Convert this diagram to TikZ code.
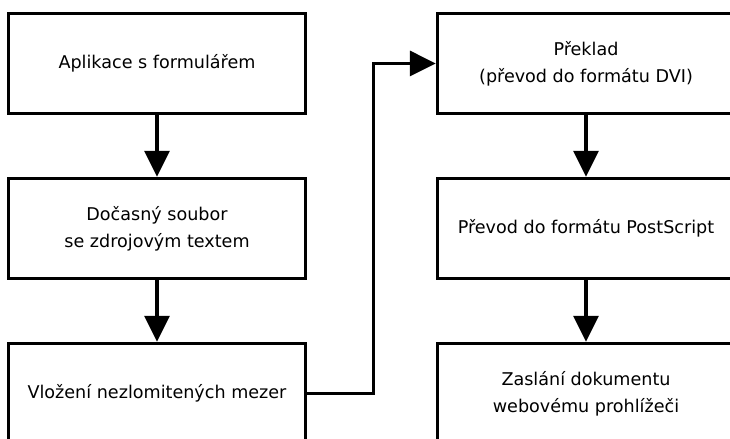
\documentclass[tikz,border=0pt]{standalone}
\usepackage{fontspec}
\setmainfont{DejaVu Sans}
\usetikzlibrary{arrows.meta}
\newcommand{\stagenum}{3}

\begin{document}
\begin{tikzpicture}[
    stage/.style={rectangle, draw=black, line width=1.9pt, fill=white,
        minimum width=5.94cm, minimum height=2cm, align=center,
        font=\fontsize{10}{15.4}\selectfont},
    flow/.style={-{Triangle[length=0.52cm, width=0.5cm]}, line width=1.9pt}
]

% Frame
\useasboundingbox (0,0) rectangle (14.6,8.78);
\clip (0,0) rectangle (14.6,8.78);

% Left column
\foreach \i/\txt in {1/{Aplikace s formulářem},
                     2/{Dočasný soubor\\se zdrojovým textem},
                     3/{Vložení nezlomitených mezer}}
{
    \node[stage] (Left-\i) at (3.14,{10.81-3.3*\i}) {\txt};
}

% Right column
\foreach \i/\txt in {1/{Překlad\\(převod do formátu DVI)},
                     2/{Převod do formátu PostScript},
                     3/{Zaslání dokumentu\\webovému prohlížeči}}
{
    \node[stage] (Right-\i) at (11.72,{10.81-3.3*\i}) {\txt};
}

% Connect stages in columns
\foreach \i [evaluate=\i as \j using int(\i+1)] in {1,...,2}
{
    \draw[flow] (Left-\i) -- (Left-\j);
    \draw[flow] (Right-\i) -- (Right-\j);
}

% Left to right
\draw[flow] (Left-3.east) -- ++(1.33,0) |- (Right-1.west);

\end{tikzpicture}
\end{document}
